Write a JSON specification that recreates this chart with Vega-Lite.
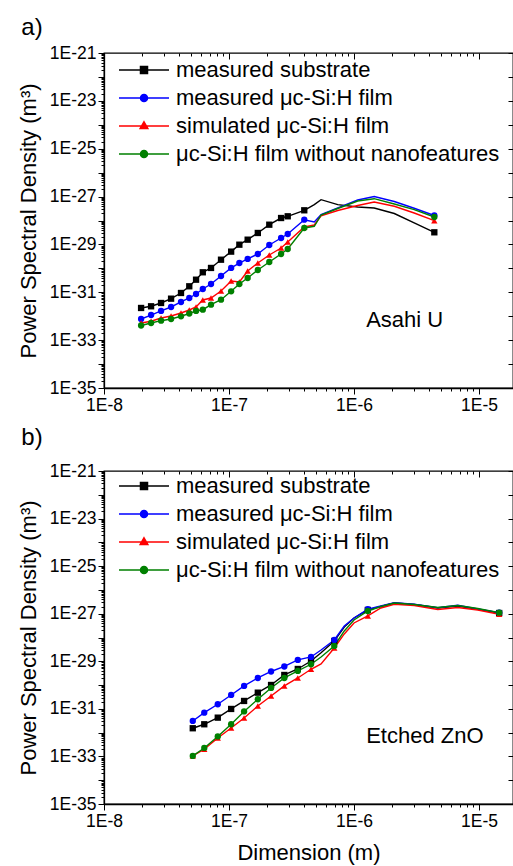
{
  "$schema": "https://vega.github.io/schema/vega-lite/v6.json",
  "padding": {"left": 16, "top": 15, "right": 0, "bottom": 0},
  "spacing": 10,
  "config": {
    "font": "Liberation Sans",
    "view": {"stroke": "#000000", "strokeWidth": 1.3},
    "axis": {"grid": false, "domainColor": "#000000", "domainWidth": 1.3, "tickColor": "#000000", "tickWidth": 1, "labelColor": "#000000", "labelFontSize": 17.5, "labelFont": "Liberation Sans", "titleColor": "#000000", "titleFontSize": 22, "titleFont": "Liberation Sans", "titleFontWeight": "normal", "labelFlush": false, "labelOverlap": false, "labelPadding": 2},
    "title": {"fontSize": 24, "fontWeight": "normal", "anchor": "start", "frame": "bounds", "color": "#000000", "font": "Liberation Sans"},
    "legend": {"labelFont": "Liberation Sans", "labelFontSize": 22, "labelColor": "#000000", "labelLimit": 400, "symbolStrokeWidth": 1.5}
  },
  "resolve": {"scale": {"color": "independent", "shape": "independent", "fill": "independent", "stroke": "independent", "x": "independent", "y": "independent"}, "legend": {"color": "independent", "shape": "independent", "fill": "independent", "stroke": "independent"}},
  "datasets": {
    "asahi": [
      {"series": "measured substrate", "dimension": 1.98e-8, "psd": 2.21e-32},
      {"series": "measured substrate", "dimension": 2.38e-8, "psd": 2.60e-32},
      {"series": "measured substrate", "dimension": 2.86e-8, "psd": 3.57e-32},
      {"series": "measured substrate", "dimension": 3.44e-8, "psd": 5.41e-32},
      {"series": "measured substrate", "dimension": 4.13e-8, "psd": 9.35e-32},
      {"series": "measured substrate", "dimension": 4.81e-8, "psd": 1.78e-31},
      {"series": "measured substrate", "dimension": 5.45e-8, "psd": 3.36e-31},
      {"series": "measured substrate", "dimension": 6.17e-8, "psd": 6.85e-31},
      {"series": "measured substrate", "dimension": 7.18e-8, "psd": 1.04e-30},
      {"series": "measured substrate", "dimension": 8.63e-8, "psd": 2.30e-30},
      {"series": "measured substrate", "dimension": 1.04e-7, "psd": 5.0e-30},
      {"series": "measured substrate", "dimension": 1.21e-7, "psd": 9.75e-30},
      {"series": "measured substrate", "dimension": 1.41e-7, "psd": 1.58e-29},
      {"series": "measured substrate", "dimension": 1.70e-7, "psd": 3.01e-29},
      {"series": "measured substrate", "dimension": 2.10e-7, "psd": 6.68e-29},
      {"series": "measured substrate", "dimension": 2.61e-7, "psd": 1.27e-28},
      {"series": "measured substrate", "dimension": 2.95e-7, "psd": 1.50e-28},
      {"series": "measured substrate", "dimension": 4.00e-7, "psd": 2.67e-28},
      {"series": "measured substrate", "dimension": 4.81e-7, "psd": 4.58e-28},
      {"series": "measured substrate", "dimension": 5.45e-7, "psd": 7.41e-28},
      {"series": "measured substrate", "dimension": 7.41e-7, "psd": 4.58e-28},
      {"series": "measured substrate", "dimension": 1.07e-6, "psd": 3.67e-28},
      {"series": "measured substrate", "dimension": 1.45e-6, "psd": 3.33e-28},
      {"series": "measured substrate", "dimension": 2.10e-6, "psd": 1.96e-28},
      {"series": "measured substrate", "dimension": 3.03e-6, "psd": 7.87e-29},
      {"series": "measured substrate", "dimension": 4.39e-6, "psd": 3.21e-29},
      {"series": "measured μc-Si:H film", "dimension": 1.98e-8, "psd": 7.66e-33},
      {"series": "measured μc-Si:H film", "dimension": 2.38e-8, "psd": 1.12e-32},
      {"series": "measured μc-Si:H film", "dimension": 2.86e-8, "psd": 1.66e-32},
      {"series": "measured μc-Si:H film", "dimension": 3.44e-8, "psd": 2.43e-32},
      {"series": "measured μc-Si:H film", "dimension": 4.13e-8, "psd": 3.94e-32},
      {"series": "measured μc-Si:H film", "dimension": 4.81e-8, "psd": 5.78e-32},
      {"series": "measured μc-Si:H film", "dimension": 5.45e-8, "psd": 8.49e-32},
      {"series": "measured μc-Si:H film", "dimension": 6.17e-8, "psd": 1.37e-31},
      {"series": "measured μc-Si:H film", "dimension": 7.18e-8, "psd": 2.22e-31},
      {"series": "measured μc-Si:H film", "dimension": 8.63e-8, "psd": 4.80e-31},
      {"series": "measured μc-Si:H film", "dimension": 1.04e-7, "psd": 1.04e-30},
      {"series": "measured μc-Si:H film", "dimension": 1.21e-7, "psd": 1.67e-30},
      {"series": "measured μc-Si:H film", "dimension": 1.41e-7, "psd": 2.47e-30},
      {"series": "measured μc-Si:H film", "dimension": 1.70e-7, "psd": 3.99e-30},
      {"series": "measured μc-Si:H film", "dimension": 2.10e-7, "psd": 9.48e-30},
      {"series": "measured μc-Si:H film", "dimension": 2.61e-7, "psd": 1.86e-29},
      {"series": "measured μc-Si:H film", "dimension": 2.95e-7, "psd": 2.73e-29},
      {"series": "measured μc-Si:H film", "dimension": 4.00e-7, "psd": 1.08e-28},
      {"series": "measured μc-Si:H film", "dimension": 4.81e-7, "psd": 8.67e-29},
      {"series": "measured μc-Si:H film", "dimension": 5.45e-7, "psd": 1.75e-28},
      {"series": "measured μc-Si:H film", "dimension": 7.41e-7, "psd": 3.33e-28},
      {"series": "measured μc-Si:H film", "dimension": 1.07e-6, "psd": 7.19e-28},
      {"series": "measured μc-Si:H film", "dimension": 1.45e-6, "psd": 1.01e-27},
      {"series": "measured μc-Si:H film", "dimension": 2.10e-6, "psd": 6.22e-28},
      {"series": "measured μc-Si:H film", "dimension": 3.03e-6, "psd": 3.24e-28},
      {"series": "measured μc-Si:H film", "dimension": 4.39e-6, "psd": 1.62e-28},
      {"series": "simulated μc-Si:H film", "dimension": 1.98e-8, "psd": 5.21e-33},
      {"series": "simulated μc-Si:H film", "dimension": 2.38e-8, "psd": 6.14e-33},
      {"series": "simulated μc-Si:H film", "dimension": 2.86e-8, "psd": 8.43e-33},
      {"series": "simulated μc-Si:H film", "dimension": 3.44e-8, "psd": 1.02e-32},
      {"series": "simulated μc-Si:H film", "dimension": 4.13e-8, "psd": 1.36e-32},
      {"series": "simulated μc-Si:H film", "dimension": 4.81e-8, "psd": 1.82e-32},
      {"series": "simulated μc-Si:H film", "dimension": 5.45e-8, "psd": 2.43e-32},
      {"series": "simulated μc-Si:H film", "dimension": 6.17e-8, "psd": 4.76e-32},
      {"series": "simulated μc-Si:H film", "dimension": 7.18e-8, "psd": 5.78e-32},
      {"series": "simulated μc-Si:H film", "dimension": 8.63e-8, "psd": 1.13e-31},
      {"series": "simulated μc-Si:H film", "dimension": 1.04e-7, "psd": 2.96e-31},
      {"series": "simulated μc-Si:H film", "dimension": 1.21e-7, "psd": 2.69e-31},
      {"series": "simulated μc-Si:H film", "dimension": 1.41e-7, "psd": 7.76e-31},
      {"series": "simulated μc-Si:H film", "dimension": 1.70e-7, "psd": 1.67e-30},
      {"series": "simulated μc-Si:H film", "dimension": 2.10e-7, "psd": 3.62e-30},
      {"series": "simulated μc-Si:H film", "dimension": 2.61e-7, "psd": 7.10e-30},
      {"series": "simulated μc-Si:H film", "dimension": 2.95e-7, "psd": 1.26e-29},
      {"series": "simulated μc-Si:H film", "dimension": 4.00e-7, "psd": 5.36e-29},
      {"series": "simulated μc-Si:H film", "dimension": 4.81e-7, "psd": 6.49e-29},
      {"series": "simulated μc-Si:H film", "dimension": 5.45e-7, "psd": 1.55e-28},
      {"series": "simulated μc-Si:H film", "dimension": 7.41e-7, "psd": 2.62e-28},
      {"series": "simulated μc-Si:H film", "dimension": 1.07e-6, "psd": 4.25e-28},
      {"series": "simulated μc-Si:H film", "dimension": 1.45e-6, "psd": 5.94e-28},
      {"series": "simulated μc-Si:H film", "dimension": 2.10e-6, "psd": 3.93e-28},
      {"series": "simulated μc-Si:H film", "dimension": 3.03e-6, "psd": 2.06e-28},
      {"series": "simulated μc-Si:H film", "dimension": 4.39e-6, "psd": 9.82e-29},
      {"series": "μc-Si:H film without nanofeatures", "dimension": 1.98e-8, "psd": 4.10e-33},
      {"series": "μc-Si:H film without nanofeatures", "dimension": 2.38e-8, "psd": 5.21e-33},
      {"series": "μc-Si:H film without nanofeatures", "dimension": 2.86e-8, "psd": 6.50e-33},
      {"series": "μc-Si:H film without nanofeatures", "dimension": 3.44e-8, "psd": 7.66e-33},
      {"series": "μc-Si:H film without nanofeatures", "dimension": 4.13e-8, "psd": 9.93e-33},
      {"series": "μc-Si:H film without nanofeatures", "dimension": 4.81e-8, "psd": 1.30e-32},
      {"series": "μc-Si:H film without nanofeatures", "dimension": 5.45e-8, "psd": 1.66e-32},
      {"series": "μc-Si:H film without nanofeatures", "dimension": 6.17e-8, "psd": 1.87e-32},
      {"series": "μc-Si:H film without nanofeatures", "dimension": 7.18e-8, "psd": 3.03e-32},
      {"series": "μc-Si:H film without nanofeatures", "dimension": 8.63e-8, "psd": 4.91e-32},
      {"series": "μc-Si:H film without nanofeatures", "dimension": 1.04e-7, "psd": 1.10e-31},
      {"series": "μc-Si:H film without nanofeatures", "dimension": 1.21e-7, "psd": 2.22e-31},
      {"series": "μc-Si:H film without nanofeatures", "dimension": 1.41e-7, "psd": 3.95e-31},
      {"series": "μc-Si:H film without nanofeatures", "dimension": 1.70e-7, "psd": 8.55e-31},
      {"series": "μc-Si:H film without nanofeatures", "dimension": 2.10e-7, "psd": 1.85e-30},
      {"series": "μc-Si:H film without nanofeatures", "dimension": 2.61e-7, "psd": 3.99e-30},
      {"series": "μc-Si:H film without nanofeatures", "dimension": 2.95e-7, "psd": 6.46e-30},
      {"series": "μc-Si:H film without nanofeatures", "dimension": 4.00e-7, "psd": 4.86e-29},
      {"series": "μc-Si:H film without nanofeatures", "dimension": 4.81e-7, "psd": 5.73e-29},
      {"series": "μc-Si:H film without nanofeatures", "dimension": 5.45e-7, "psd": 1.70e-28},
      {"series": "μc-Si:H film without nanofeatures", "dimension": 7.41e-7, "psd": 3.18e-28},
      {"series": "μc-Si:H film without nanofeatures", "dimension": 1.07e-6, "psd": 6.53e-28},
      {"series": "μc-Si:H film without nanofeatures", "dimension": 1.45e-6, "psd": 8.15e-28},
      {"series": "μc-Si:H film without nanofeatures", "dimension": 2.10e-6, "psd": 4.90e-28},
      {"series": "μc-Si:H film without nanofeatures", "dimension": 3.03e-6, "psd": 2.83e-28},
      {"series": "μc-Si:H film without nanofeatures", "dimension": 4.39e-6, "psd": 1.40e-28}
    ],
    "zno": [
      {"series": "measured substrate", "dimension": 5.13e-8, "psd": 1.53e-32},
      {"series": "measured substrate", "dimension": 6.34e-8, "psd": 2.25e-32},
      {"series": "measured substrate", "dimension": 8.13e-8, "psd": 4.27e-32},
      {"series": "measured substrate", "dimension": 1.04e-7, "psd": 9.91e-32},
      {"series": "measured substrate", "dimension": 1.32e-7, "psd": 2.15e-31},
      {"series": "measured substrate", "dimension": 1.70e-7, "psd": 4.80e-31},
      {"series": "measured substrate", "dimension": 2.17e-7, "psd": 1.01e-30},
      {"series": "measured substrate", "dimension": 2.77e-7, "psd": 2.66e-30},
      {"series": "measured substrate", "dimension": 3.55e-7, "psd": 4.75e-30},
      {"series": "measured substrate", "dimension": 4.53e-7, "psd": 1.03e-29},
      {"series": "measured substrate", "dimension": 5.45e-7, "psd": 2.30e-29},
      {"series": "measured substrate", "dimension": 6.95e-7, "psd": 7.14e-29},
      {"series": "measured substrate", "dimension": 8.36e-7, "psd": 2.77e-28},
      {"series": "measured substrate", "dimension": 1.00e-6, "psd": 6.62e-28},
      {"series": "measured substrate", "dimension": 1.29e-6, "psd": 1.44e-27},
      {"series": "measured substrate", "dimension": 1.64e-6, "psd": 2.01e-27},
      {"series": "measured substrate", "dimension": 2.10e-6, "psd": 2.83e-27},
      {"series": "measured substrate", "dimension": 3.03e-6, "psd": 2.45e-27},
      {"series": "measured substrate", "dimension": 4.68e-6, "psd": 1.74e-27},
      {"series": "measured substrate", "dimension": 6.76e-6, "psd": 2.11e-27},
      {"series": "measured substrate", "dimension": 9.77e-6, "psd": 1.54e-27},
      {"series": "measured substrate", "dimension": 1.45e-5, "psd": 1.07e-27},
      {"series": "measured μc-Si:H film", "dimension": 5.13e-8, "psd": 3.10e-32},
      {"series": "measured μc-Si:H film", "dimension": 6.34e-8, "psd": 6.92e-32},
      {"series": "measured μc-Si:H film", "dimension": 8.13e-8, "psd": 1.56e-31},
      {"series": "measured μc-Si:H film", "dimension": 1.04e-7, "psd": 3.84e-31},
      {"series": "measured μc-Si:H film", "dimension": 1.32e-7, "psd": 9.18e-31},
      {"series": "measured μc-Si:H film", "dimension": 1.70e-7, "psd": 1.99e-30},
      {"series": "measured μc-Si:H film", "dimension": 2.17e-7, "psd": 3.73e-30},
      {"series": "measured μc-Si:H film", "dimension": 2.77e-7, "psd": 6.05e-30},
      {"series": "measured μc-Si:H film", "dimension": 3.55e-7, "psd": 1.14e-29},
      {"series": "measured μc-Si:H film", "dimension": 4.53e-7, "psd": 1.52e-29},
      {"series": "measured μc-Si:H film", "dimension": 5.45e-7, "psd": 2.99e-29},
      {"series": "measured μc-Si:H film", "dimension": 6.95e-7, "psd": 7.87e-29},
      {"series": "measured μc-Si:H film", "dimension": 8.36e-7, "psd": 3.05e-28},
      {"series": "measured μc-Si:H film", "dimension": 1.00e-6, "psd": 6.62e-28},
      {"series": "measured μc-Si:H film", "dimension": 1.29e-6, "psd": 1.54e-27},
      {"series": "measured μc-Si:H film", "dimension": 1.64e-6, "psd": 2.11e-27},
      {"series": "measured μc-Si:H film", "dimension": 2.10e-6, "psd": 2.91e-27},
      {"series": "measured μc-Si:H film", "dimension": 3.03e-6, "psd": 2.49e-27},
      {"series": "measured μc-Si:H film", "dimension": 4.68e-6, "psd": 1.79e-27},
      {"series": "measured μc-Si:H film", "dimension": 6.76e-6, "psd": 2.26e-27},
      {"series": "measured μc-Si:H film", "dimension": 9.77e-6, "psd": 1.58e-27},
      {"series": "measured μc-Si:H film", "dimension": 1.45e-5, "psd": 1.11e-27},
      {"series": "simulated μc-Si:H film", "dimension": 5.13e-8, "psd": 1.05e-33},
      {"series": "simulated μc-Si:H film", "dimension": 6.34e-8, "psd": 2.00e-33},
      {"series": "simulated μc-Si:H film", "dimension": 8.13e-8, "psd": 5.98e-33},
      {"series": "simulated μc-Si:H film", "dimension": 1.04e-7, "psd": 1.57e-32},
      {"series": "simulated μc-Si:H film", "dimension": 1.32e-7, "psd": 4.15e-32},
      {"series": "simulated μc-Si:H film", "dimension": 1.70e-7, "psd": 1.32e-31},
      {"series": "simulated μc-Si:H film", "dimension": 2.17e-7, "psd": 3.48e-31},
      {"series": "simulated μc-Si:H film", "dimension": 2.77e-7, "psd": 9.18e-31},
      {"series": "simulated μc-Si:H film", "dimension": 3.55e-7, "psd": 1.99e-30},
      {"series": "simulated μc-Si:H film", "dimension": 4.53e-7, "psd": 4.61e-30},
      {"series": "simulated μc-Si:H film", "dimension": 5.45e-7, "psd": 7.71e-30},
      {"series": "simulated μc-Si:H film", "dimension": 6.95e-7, "psd": 3.63e-29},
      {"series": "simulated μc-Si:H film", "dimension": 8.36e-7, "psd": 1.41e-28},
      {"series": "simulated μc-Si:H film", "dimension": 1.00e-6, "psd": 4.08e-28},
      {"series": "simulated μc-Si:H film", "dimension": 1.29e-6, "psd": 8.04e-28},
      {"series": "simulated μc-Si:H film", "dimension": 1.64e-6, "psd": 1.74e-27},
      {"series": "simulated μc-Si:H film", "dimension": 2.10e-6, "psd": 2.49e-27},
      {"series": "simulated μc-Si:H film", "dimension": 3.03e-6, "psd": 2.22e-27},
      {"series": "simulated μc-Si:H film", "dimension": 4.68e-6, "psd": 1.51e-27},
      {"series": "simulated μc-Si:H film", "dimension": 6.76e-6, "psd": 1.83e-27},
      {"series": "simulated μc-Si:H film", "dimension": 9.77e-6, "psd": 1.44e-27},
      {"series": "simulated μc-Si:H film", "dimension": 1.45e-5, "psd": 9.48e-28},
      {"series": "μc-Si:H film without nanofeatures", "dimension": 5.13e-8, "psd": 1.05e-33},
      {"series": "μc-Si:H film without nanofeatures", "dimension": 6.34e-8, "psd": 2.27e-33},
      {"series": "μc-Si:H film without nanofeatures", "dimension": 8.13e-8, "psd": 6.92e-33},
      {"series": "μc-Si:H film without nanofeatures", "dimension": 1.04e-7, "psd": 2.25e-32},
      {"series": "μc-Si:H film without nanofeatures", "dimension": 1.32e-7, "psd": 7.78e-32},
      {"series": "μc-Si:H film without nanofeatures", "dimension": 1.70e-7, "psd": 2.53e-31},
      {"series": "μc-Si:H film without nanofeatures", "dimension": 2.17e-7, "psd": 7.57e-31},
      {"series": "μc-Si:H film without nanofeatures", "dimension": 2.77e-7, "psd": 1.99e-30},
      {"series": "μc-Si:H film without nanofeatures", "dimension": 3.55e-7, "psd": 3.92e-30},
      {"series": "μc-Si:H film without nanofeatures", "dimension": 4.53e-7, "psd": 7.50e-30},
      {"series": "μc-Si:H film without nanofeatures", "dimension": 5.45e-7, "psd": 1.52e-29},
      {"series": "μc-Si:H film without nanofeatures", "dimension": 6.95e-7, "psd": 4.41e-29},
      {"series": "μc-Si:H film without nanofeatures", "dimension": 8.36e-7, "psd": 1.88e-28},
      {"series": "μc-Si:H film without nanofeatures", "dimension": 1.00e-6, "psd": 5.46e-28},
      {"series": "μc-Si:H film without nanofeatures", "dimension": 1.29e-6, "psd": 1.30e-27},
      {"series": "μc-Si:H film without nanofeatures", "dimension": 1.64e-6, "psd": 2.01e-27},
      {"series": "μc-Si:H film without nanofeatures", "dimension": 2.10e-6, "psd": 2.83e-27},
      {"series": "μc-Si:H film without nanofeatures", "dimension": 3.03e-6, "psd": 2.45e-27},
      {"series": "μc-Si:H film without nanofeatures", "dimension": 4.68e-6, "psd": 1.83e-27},
      {"series": "μc-Si:H film without nanofeatures", "dimension": 6.76e-6, "psd": 2.22e-27},
      {"series": "μc-Si:H film without nanofeatures", "dimension": 9.77e-6, "psd": 1.66e-27},
      {"series": "μc-Si:H film without nanofeatures", "dimension": 1.45e-5, "psd": 1.11e-27}
    ]
  },
  "vconcat": [
    {
      "width": 409,
      "height": 335,
      "title": {"text": "a)", "offset": 4, "dx": 4},
      "resolve": {"scale": {"shape": "independent"}, "legend": {"color": "independent", "shape": "independent", "fill": "independent", "stroke": "independent"}},
      "layer": [
        {
          "data": {"name": "asahi"},
          "mark": {"type": "line", "strokeWidth": 1.4},
          "encoding": {
            "x": {"field": "dimension", "type": "quantitative", "scale": {"type": "log", "domain": [1e-8, 1.87e-5], "nice": false},
              "axis": {"orient": "bottom", "title": null, "values": [1e-8,2e-8,3e-8,4e-8,5e-8,6e-8,7e-8,8e-8,9e-8,1e-7,2e-7,3e-7,4e-7,5e-7,6e-7,7e-7,8e-7,9e-7,1e-6,2e-6,3e-6,4e-6,5e-6,6e-6,7e-6,8e-6,9e-6,1e-5],
                "labelExpr": "abs(log(datum.value)/LN10 - round(log(datum.value)/LN10)) < 0.01 ? '1E' + round(log(datum.value)/LN10) : ''",
                "tickSize": {"condition": {"test": "abs(log(datum.value)/LN10 - round(log(datum.value)/LN10)) < 0.01", "value": 6}, "value": 3}}},
            "y": {"field": "psd", "type": "quantitative", "scale": {"type": "log", "domain": [1e-35, 1e-21], "nice": false},
              "axis": {"orient": "left", "title": "Power Spectral Density (m³)", "titlePadding": 9,
                "values": [1e-35,2e-35,3e-35,4e-35,5e-35,6e-35,7e-35,8e-35,9e-35,1e-34,2e-34,3e-34,4e-34,5e-34,6e-34,7e-34,8e-34,9e-34,1e-33,2e-33,3e-33,4e-33,5e-33,6e-33,7e-33,8e-33,9e-33,1e-32,2e-32,3e-32,4e-32,5e-32,6e-32,7e-32,8e-32,9e-32,1e-31,2e-31,3e-31,4e-31,5e-31,6e-31,7e-31,8e-31,9e-31,1e-30,2e-30,3e-30,4e-30,5e-30,6e-30,7e-30,8e-30,9e-30,1e-29,2e-29,3e-29,4e-29,5e-29,6e-29,7e-29,8e-29,9e-29,1e-28,2e-28,3e-28,4e-28,5e-28,6e-28,7e-28,8e-28,9e-28,1e-27,2e-27,3e-27,4e-27,5e-27,6e-27,7e-27,8e-27,9e-27,1e-26,2e-26,3e-26,4e-26,5e-26,6e-26,7e-26,8e-26,9e-26,1e-25,2e-25,3e-25,4e-25,5e-25,6e-25,7e-25,8e-25,9e-25,1e-24,2e-24,3e-24,4e-24,5e-24,6e-24,7e-24,8e-24,9e-24,1e-23,2e-23,3e-23,4e-23,5e-23,6e-23,7e-23,8e-23,9e-23,1e-22,2e-22,3e-22,4e-22,5e-22,6e-22,7e-22,8e-22,9e-22,1e-21],
                "labelExpr": "abs(log(datum.value)/LN10 - round(log(datum.value)/LN10)) < 0.01 && abs(round(log(datum.value)/LN10)) % 2 == 1 ? '1E' + round(log(datum.value)/LN10) : ''",
                "tickSize": {"condition": {"test": "abs(log(datum.value)/LN10 - round(log(datum.value)/LN10)) < 0.01", "value": 6}, "value": 3}}},
            "color": {"field": "series", "type": "nominal", "legend": null,
              "scale": {"domain": ["measured substrate", "measured μc-Si:H film", "simulated μc-Si:H film", "μc-Si:H film without nanofeatures"], "range": ["#000000", "#0000ff", "#ff0000", "#008000"]}}
          }
        },
        {
          "data": {"name": "asahi"},
          "transform": [{"filter": "datum.dimension < 4.1e-7 || datum.dimension > 4.3e-6"}],
          "mark": {"type": "point", "filled": true, "opacity": 1, "size": 40},
          "encoding": {
            "x": {"field": "dimension", "type": "quantitative", "scale": {"type": "log", "domain": [1e-8, 1.87e-5], "nice": false}, "axis": null},
            "y": {"field": "psd", "type": "quantitative", "scale": {"type": "log", "domain": [1e-35, 1e-21], "nice": false}, "axis": null},
            "color": {"field": "series", "type": "nominal", "legend": null,
              "scale": {"domain": ["measured substrate", "measured μc-Si:H film", "simulated μc-Si:H film", "μc-Si:H film without nanofeatures"], "range": ["#000000", "#0000ff", "#ff0000", "#008000"]}},
            "shape": {"field": "series", "type": "nominal", "legend": null,
              "scale": {"domain": ["measured substrate", "measured μc-Si:H film", "simulated μc-Si:H film", "μc-Si:H film without nanofeatures"], "range": ["square", "circle", "triangle-up", "circle"]}}
          }
        },
        {
          "data": {"name": "asahi"},
          "transform": [{"filter": "false"}],
          "mark": {"type": "point", "filled": true, "opacity": 1},
          "encoding": {
            "x": {"field": "dimension", "type": "quantitative", "scale": {"type": "log", "domain": [1e-8, 1.87e-5], "nice": false}, "axis": null},
            "y": {"field": "psd", "type": "quantitative", "scale": {"type": "log", "domain": [1e-35, 1e-21], "nice": false}, "axis": null},
            "fill": {"field": "series", "type": "nominal",
              "scale": {"domain": ["measured substrate", "measured μc-Si:H film", "simulated μc-Si:H film", "μc-Si:H film without nanofeatures"], "range": ["#000000", "#0000ff", "#ff0000", "#008000"]},
              "legend": {"orient": "none", "legendX": 26, "legendY": 3, "title": null, "symbolSize": 700, "labelOffset": 18, "rowPadding": 3, "padding": 0}},
            "stroke": {"field": "series", "type": "nominal",
              "scale": {"domain": ["measured substrate", "measured μc-Si:H film", "simulated μc-Si:H film", "μc-Si:H film without nanofeatures"], "range": ["#000000", "#0000ff", "#ff0000", "#008000"]},
              "legend": {"orient": "none", "legendX": 26, "legendY": 3, "title": null, "symbolSize": 700, "labelOffset": 18, "rowPadding": 3, "padding": 0}},
            "shape": {"field": "series", "type": "nominal",
              "scale": {"domain": ["measured substrate", "measured μc-Si:H film", "simulated μc-Si:H film", "μc-Si:H film without nanofeatures"], "range": ["M-1.89,0H1.89M-0.265,-0.265H0.265V0.265H-0.265Z", "M-1.89,0H1.89M0.265,0A0.265,0.265,0,1,1,-0.265,0A0.265,0.265,0,1,1,0.265,0Z", "M-1.89,0H1.89M0,-0.32L0.29,0.19L-0.29,0.19Z", "M-1.89,0H1.89M0.265,0A0.265,0.265,0,1,1,-0.265,0A0.265,0.265,0,1,1,0.265,0Z"]},
              "legend": {"orient": "none", "legendX": 26, "legendY": 3, "title": null, "symbolSize": 700, "labelOffset": 18, "rowPadding": 3, "padding": 0}}
          }
        },
        {
          "data": {"values": [{"label": "Asahi U", "dimension": 1.25e-6, "psd": 7e-33}]},
          "mark": {"type": "text", "align": "left", "baseline": "middle", "fontSize": 22, "font": "Liberation Sans", "color": "#000000"},
          "encoding": {
            "x": {"field": "dimension", "type": "quantitative", "scale": {"type": "log", "domain": [1e-8, 1.87e-5], "nice": false},
              "axis": {"orient": "top", "title": null, "labels": false, "domain": false, "values": [1e-8,2e-8,3e-8,4e-8,5e-8,6e-8,7e-8,8e-8,9e-8,1e-7,2e-7,3e-7,4e-7,5e-7,6e-7,7e-7,8e-7,9e-7,1e-6,2e-6,3e-6,4e-6,5e-6,6e-6,7e-6,8e-6,9e-6,1e-5],
                "tickSize": {"condition": {"test": "abs(log(datum.value)/LN10 - round(log(datum.value)/LN10)) < 0.01", "value": -6}, "value": -3}}},
            "y": {"field": "psd", "type": "quantitative", "scale": {"type": "log", "domain": [1e-35, 1e-21], "nice": false},
              "axis": {"orient": "right", "title": null, "labels": false, "domain": false, "values": [1e-35,1e-34,1e-33,1e-32,1e-31,1e-30,1e-29,1e-28,1e-27,1e-26,1e-25,1e-24,1e-23,1e-22,1e-21], "tickSize": -5}},
            "text": {"field": "label"}
          }
        }
      ]
    },
    {
      "width": 409,
      "height": 333,
      "title": {"text": "b)", "offset": 12, "dx": 4},
      "resolve": {"scale": {"shape": "independent"}, "legend": {"color": "independent", "shape": "independent", "fill": "independent", "stroke": "independent"}},
      "layer": [
        {
          "data": {"name": "zno"},
          "mark": {"type": "line", "strokeWidth": 1.4},
          "encoding": {
            "x": {"field": "dimension", "type": "quantitative", "scale": {"type": "log", "domain": [1e-8, 1.87e-5], "nice": false},
              "axis": {"orient": "bottom", "title": "Dimension (m)", "titlePadding": 13, "values": [1e-8,2e-8,3e-8,4e-8,5e-8,6e-8,7e-8,8e-8,9e-8,1e-7,2e-7,3e-7,4e-7,5e-7,6e-7,7e-7,8e-7,9e-7,1e-6,2e-6,3e-6,4e-6,5e-6,6e-6,7e-6,8e-6,9e-6,1e-5],
                "labelExpr": "abs(log(datum.value)/LN10 - round(log(datum.value)/LN10)) < 0.01 ? '1E' + round(log(datum.value)/LN10) : ''",
                "tickSize": {"condition": {"test": "abs(log(datum.value)/LN10 - round(log(datum.value)/LN10)) < 0.01", "value": 6}, "value": 3}}},
            "y": {"field": "psd", "type": "quantitative", "scale": {"type": "log", "domain": [1e-35, 1e-21], "nice": false},
              "axis": {"orient": "left", "title": "Power Spectral Density (m³)", "titlePadding": 9,
                "values": [1e-35,2e-35,3e-35,4e-35,5e-35,6e-35,7e-35,8e-35,9e-35,1e-34,2e-34,3e-34,4e-34,5e-34,6e-34,7e-34,8e-34,9e-34,1e-33,2e-33,3e-33,4e-33,5e-33,6e-33,7e-33,8e-33,9e-33,1e-32,2e-32,3e-32,4e-32,5e-32,6e-32,7e-32,8e-32,9e-32,1e-31,2e-31,3e-31,4e-31,5e-31,6e-31,7e-31,8e-31,9e-31,1e-30,2e-30,3e-30,4e-30,5e-30,6e-30,7e-30,8e-30,9e-30,1e-29,2e-29,3e-29,4e-29,5e-29,6e-29,7e-29,8e-29,9e-29,1e-28,2e-28,3e-28,4e-28,5e-28,6e-28,7e-28,8e-28,9e-28,1e-27,2e-27,3e-27,4e-27,5e-27,6e-27,7e-27,8e-27,9e-27,1e-26,2e-26,3e-26,4e-26,5e-26,6e-26,7e-26,8e-26,9e-26,1e-25,2e-25,3e-25,4e-25,5e-25,6e-25,7e-25,8e-25,9e-25,1e-24,2e-24,3e-24,4e-24,5e-24,6e-24,7e-24,8e-24,9e-24,1e-23,2e-23,3e-23,4e-23,5e-23,6e-23,7e-23,8e-23,9e-23,1e-22,2e-22,3e-22,4e-22,5e-22,6e-22,7e-22,8e-22,9e-22,1e-21],
                "labelExpr": "abs(log(datum.value)/LN10 - round(log(datum.value)/LN10)) < 0.01 && abs(round(log(datum.value)/LN10)) % 2 == 1 ? '1E' + round(log(datum.value)/LN10) : ''",
                "tickSize": {"condition": {"test": "abs(log(datum.value)/LN10 - round(log(datum.value)/LN10)) < 0.01", "value": 6}, "value": 3}}},
            "color": {"field": "series", "type": "nominal", "legend": null,
              "scale": {"domain": ["measured substrate", "measured μc-Si:H film", "simulated μc-Si:H film", "μc-Si:H film without nanofeatures"], "range": ["#000000", "#0000ff", "#ff0000", "#008000"]}}
          }
        },
        {
          "data": {"name": "zno"},
          "transform": [{"filter": "datum.dimension < 5e-7 || (datum.dimension > 6.9e-7 && datum.dimension < 7e-7) || (datum.dimension > 1.28e-6 && datum.dimension < 1.3e-6) || datum.dimension > 1.4e-5"}],
          "mark": {"type": "point", "filled": true, "opacity": 1, "size": 40},
          "encoding": {
            "x": {"field": "dimension", "type": "quantitative", "scale": {"type": "log", "domain": [1e-8, 1.87e-5], "nice": false}, "axis": null},
            "y": {"field": "psd", "type": "quantitative", "scale": {"type": "log", "domain": [1e-35, 1e-21], "nice": false}, "axis": null},
            "color": {"field": "series", "type": "nominal", "legend": null,
              "scale": {"domain": ["measured substrate", "measured μc-Si:H film", "simulated μc-Si:H film", "μc-Si:H film without nanofeatures"], "range": ["#000000", "#0000ff", "#ff0000", "#008000"]}},
            "shape": {"field": "series", "type": "nominal", "legend": null,
              "scale": {"domain": ["measured substrate", "measured μc-Si:H film", "simulated μc-Si:H film", "μc-Si:H film without nanofeatures"], "range": ["square", "circle", "triangle-up", "circle"]}}
          }
        },
        {
          "data": {"name": "zno"},
          "transform": [{"filter": "false"}],
          "mark": {"type": "point", "filled": true, "opacity": 1},
          "encoding": {
            "x": {"field": "dimension", "type": "quantitative", "scale": {"type": "log", "domain": [1e-8, 1.87e-5], "nice": false}, "axis": null},
            "y": {"field": "psd", "type": "quantitative", "scale": {"type": "log", "domain": [1e-35, 1e-21], "nice": false}, "axis": null},
            "fill": {"field": "series", "type": "nominal",
              "scale": {"domain": ["measured substrate", "measured μc-Si:H film", "simulated μc-Si:H film", "μc-Si:H film without nanofeatures"], "range": ["#000000", "#0000ff", "#ff0000", "#008000"]},
              "legend": {"orient": "none", "legendX": 26, "legendY": 1, "title": null, "symbolSize": 700, "labelOffset": 18, "rowPadding": 3, "padding": 0}},
            "stroke": {"field": "series", "type": "nominal",
              "scale": {"domain": ["measured substrate", "measured μc-Si:H film", "simulated μc-Si:H film", "μc-Si:H film without nanofeatures"], "range": ["#000000", "#0000ff", "#ff0000", "#008000"]},
              "legend": {"orient": "none", "legendX": 26, "legendY": 1, "title": null, "symbolSize": 700, "labelOffset": 18, "rowPadding": 3, "padding": 0}},
            "shape": {"field": "series", "type": "nominal",
              "scale": {"domain": ["measured substrate", "measured μc-Si:H film", "simulated μc-Si:H film", "μc-Si:H film without nanofeatures"], "range": ["M-1.89,0H1.89M-0.265,-0.265H0.265V0.265H-0.265Z", "M-1.89,0H1.89M0.265,0A0.265,0.265,0,1,1,-0.265,0A0.265,0.265,0,1,1,0.265,0Z", "M-1.89,0H1.89M0,-0.32L0.29,0.19L-0.29,0.19Z", "M-1.89,0H1.89M0.265,0A0.265,0.265,0,1,1,-0.265,0A0.265,0.265,0,1,1,0.265,0Z"]},
              "legend": {"orient": "none", "legendX": 26, "legendY": 1, "title": null, "symbolSize": 700, "labelOffset": 18, "rowPadding": 3, "padding": 0}}
          }
        },
        {
          "data": {"values": [{"label": "Etched ZnO", "dimension": 1.25e-6, "psd": 7.2e-33}]},
          "mark": {"type": "text", "align": "left", "baseline": "middle", "fontSize": 22, "font": "Liberation Sans", "color": "#000000"},
          "encoding": {
            "x": {"field": "dimension", "type": "quantitative", "scale": {"type": "log", "domain": [1e-8, 1.87e-5], "nice": false},
              "axis": {"orient": "top", "title": null, "labels": false, "domain": false, "values": [1e-8,2e-8,3e-8,4e-8,5e-8,6e-8,7e-8,8e-8,9e-8,1e-7,2e-7,3e-7,4e-7,5e-7,6e-7,7e-7,8e-7,9e-7,1e-6,2e-6,3e-6,4e-6,5e-6,6e-6,7e-6,8e-6,9e-6,1e-5],
                "tickSize": {"condition": {"test": "abs(log(datum.value)/LN10 - round(log(datum.value)/LN10)) < 0.01", "value": -6}, "value": -3}}},
            "y": {"field": "psd", "type": "quantitative", "scale": {"type": "log", "domain": [1e-35, 1e-21], "nice": false},
              "axis": {"orient": "right", "title": null, "labels": false, "domain": false, "values": [1e-35,1e-34,1e-33,1e-32,1e-31,1e-30,1e-29,1e-28,1e-27,1e-26,1e-25,1e-24,1e-23,1e-22,1e-21], "tickSize": -5}},
            "text": {"field": "label"}
          }
        }
      ]
    }
  ]
}
